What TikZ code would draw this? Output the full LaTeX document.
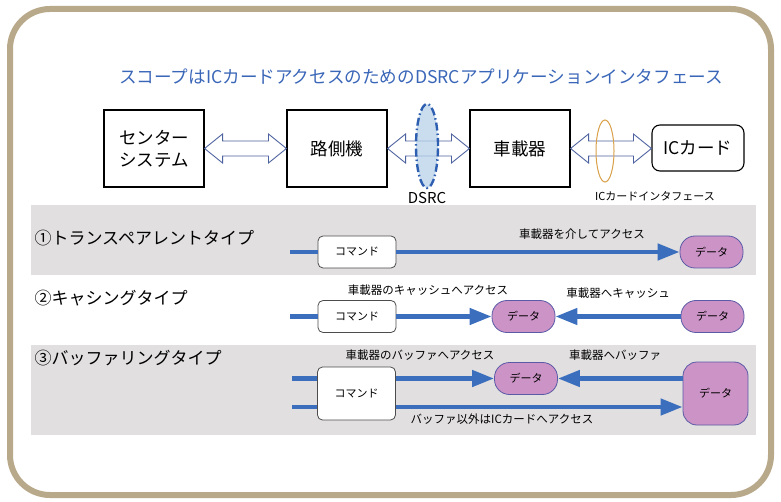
\documentclass[tikz,border=0pt]{standalone}
\usepackage{fontspec}
\setmainfont{Noto Sans CJK JP}
\usetikzlibrary{calc}
\usetikzlibrary{positioning}
\usetikzlibrary{shapes.geometric}
\usetikzlibrary{arrows.meta}
\definecolor{frametan}{HTML}{B9A98B}
\definecolor{bandgray}{HTML}{E1DFE0}
\definecolor{flowblue}{HTML}{3B6FBE}
\definecolor{titleblue}{HTML}{3A66B8}
\definecolor{datafill}{HTML}{CC93C6}
\definecolor{dataedge}{HTML}{5A5AA6}
\definecolor{hollowedge}{HTML}{4E62A0}
\definecolor{dsrcfill}{HTML}{B7D2EA}
\definecolor{dsrcedge}{HTML}{2F5FB0}
\definecolor{ifedge}{HTML}{D9A04A}
\tikzset{
	unitbox/.style={
		rectangle,
		draw=black, line width=1.1,
		minimum width=100,
		minimum height=77,
		align=center,
		font=\fontsize{17.5}{22}\selectfont},
	cardbox/.style={
		rectangle,
		rounded corners=8,
		draw=black, line width=1.1,
		minimum width=92,
		minimum height=46,
		font=\fontsize{17.5}{22}\selectfont},
	cmdbox/.style={
		rectangle,
		rounded corners=5,
		draw=black!70, fill=white, line width=0.8,
		minimum width=78,
		minimum height=32,
		font=\fontsize{11}{13}\selectfont},
	datapill/.style={
		rectangle,
		rounded corners=15,
		fill=datafill, draw=dataedge, line width=0.8,
		minimum width=63,
		minimum height=32,
		font=\fontsize{11}{13}\selectfont},
	hollow/.style={draw=hollowedge, fill=white, line width=0.9},
	stub/.style={draw=flowblue, line width=4.5},
	flow/.style={stub, -{Triangle[length=22pt,width=16pt]}},
	note/.style={font=\fontsize{11.5}{13}\selectfont},
	rowlabel/.style={anchor=west, font=\fontsize{17}{20}\selectfont},
}
% hollow double arrow between two boxes
\newcommand{\hollowlink}[2]{%
	\draw[hollow] let \p1=(#1.east), \p2=(#2.west) in
		(\x1,\y1) -- ++(18pt,14.5pt) -- ++(0,-7pt) -- (\x2-18pt,\y1+7.5pt)
		-- ++(0,7pt) -- (\x2,\y1) -- ++(-18pt,-14.5pt) -- ++(0,7pt)
		-- (\x1+18pt,\y1-7.5pt) -- ++(0,-7pt) -- cycle;}

\begin{document}
\begin{tikzpicture}[x=1pt,y=-1pt]
	\useasboundingbox (0,0) rectangle (781,502);
	\fill[bandgray] (31,205) rectangle (756,275);
	\fill[bandgray] (31,345) rectangle (756,435);
	\draw[frametan, line width=6, rounded corners=40] (10,9) rectangle (771,495);

	\node[titleblue, font=\fontsize{17.6}{20}\selectfont] (title) at (421,77)
		{スコープはICカードアクセスのためのDSRCアプリケーションインタフェース};

	% system chain
	\node[unitbox] (center) at (154,148.5) {センター\\システム};
	\node[unitbox] (roadside) at (337,148.5) {路側機};
	\node[unitbox] (onboard) at (520,148.5) {車載器};
	\node[cardbox] (iccard) at (698,148) {ICカード};
	\hollowlink{center}{roadside}
	\hollowlink{roadside}{onboard}
	\hollowlink{onboard}{iccard}
	\node[ellipse, fill=dsrcfill, fill opacity=0.75, draw=dsrcedge, line width=2.4,
		dash pattern=on 8pt off 3pt on 1.5pt off 3pt,
		minimum width=22, minimum height=84] (dsrc) at (427,146) {};
	\node[below=0pt of dsrc, font=\fontsize{15}{17}\selectfont] (dsrclabel) {DSRC};
	\node[ellipse, draw=ifedge, line width=1, minimum width=18, minimum height=62]
		(ifring) at (605,151) {};
	\node[font=\fontsize{11}{13}\selectfont] (iflabel) at (655,196) {ICカードインタフェース};

	% transparent type
	\node[rowlabel] (typeone) at (31,238) {①トランスペアレントタイプ};
	\node[cmdbox] (cmdone) at (357,252) {コマンド};
	\node[datapill] (dataone) at (711.5,252) {データ};
	\coordinate (inone) at (290,252);
	\draw[stub] (inone) -- (cmdone.west);
	\draw[flow] (cmdone) -- (dataone);
	\node[note] (noteone) at (582,234) {車載器を介してアクセス};

	% caching type
	\node[rowlabel] (typetwo) at (31,298) {②キャシングタイプ};
	\node[cmdbox] (cmdtwo) at (357,316.5) {コマンド};
	\node[datapill] (cachedata) at (523.5,316.5) {データ};
	\node[datapill] (srctwo) at (712.5,316.5) {データ};
	\coordinate (intwo) at (290,316.5);
	\draw[stub] (intwo) -- (cmdtwo.west);
	\draw[flow] (cmdtwo) -- (cachedata);
	\draw[flow] (srctwo) -- (cachedata);
	\node[note] (notetwo) at (428,290) {車載器のキャッシュへアクセス};
	\node[note] (notetwob) at (618,293) {車載器へキャッシュ};

	% buffering type
	\node[rowlabel] (typethree) at (31,358) {③バッファリングタイプ};
	\node[cmdbox, minimum height=53] (cmdthree) at (356.5,393.5) {コマンド};
	\node[datapill] (bufdata) at (526,378.5) {データ};
	\node[datapill, rounded corners=14, minimum width=65, minimum height=63]
		(bigdata) at (715.5,393.5) {データ};
	\coordinate (inthreea) at (292,378.5);
	\coordinate (inthreeb) at (292,407);
	\draw[stub] (inthreea) -- (inthreea -| cmdthree.west);
	\draw[stub] (inthreeb) -- (inthreeb -| cmdthree.west);
	\draw[flow] (cmdthree.east |- bufdata) -- (bufdata);
	\draw[flow] (bigdata.west |- bufdata) -- (bufdata);
	\draw[flow] (cmdthree.east |- inthreeb) -- (bigdata.west |- inthreeb);
	\node[note] (notethree) at (420,355) {車載器のバッファへアクセス};
	\node[note] (notethreeb) at (615,355) {車載器へバッファ};
	\node[note] (notethreec) at (502,419) {バッファ以外はICカードへアクセス};
\end{tikzpicture}
\end{document}
